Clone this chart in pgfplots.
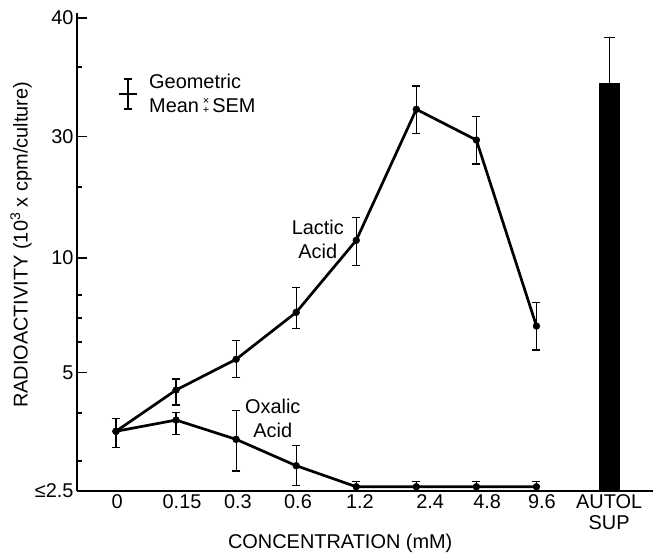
\documentclass[border=0pt]{standalone}
\usepackage{fontspec}
\setmainfont{Liberation Sans}
\usepackage{pgfplots}
\pgfplotsset{compat=1.18}

% y positions are read on the drawn (piecewise log) scale:
% 0 = <=2.5, 1 = 5, 1.97 = 10, 3 = 30, 4 = 40
\pgfplotsset{
  errs/.style={error bars/.cd, y dir=both, y explicit,
    error bar style={line width=1.2bp, solid},
    error mark options={rotate=90, line width=1.2bp, mark size=4bp, solid}},
}

\begin{document}
\begin{tikzpicture}
\begin{axis}[
  scale only axis, width=576bp, height=477.7bp,
  xmin=-0.649, xmax=8.94, ymin=0, ymax=4.04,
  axis lines=left, axis line style={-, line width=1.5bp},
  clip=false,
  xtick={0.02,1.1,2.03,3.03,4.06,5.23,6.18,7.09,8.21},
  xticklabels={0,0.15,0.3,0.6,1.2,2.4,4.8,9.6,{AUTOL\\[-1pt]SUP}},
  xtick style={draw=none},
  xticklabel style={align=center, font=\fontsize{20}{22}\selectfont},
  ytick={0,1,1.97,3,4},
  yticklabels={≤2.5,5,10,30,40},
  minor ytick={0.254,0.66,1.26,1.463,1.657,2.571,3.585},
  yticklabel style={font=\fontsize{20}{22}\selectfont},
  tick align=inside, ytick pos=left,
  major tick length=10bp, minor tick length=5bp,
  tick style={line width=1.3bp, black},
  xlabel={CONCENTRATION (mM)},
  xlabel style={at={(axis description cs:0.457,0)}, anchor=base, yshift=-57bp,
    font=\fontsize{20}{22}\selectfont},
  ylabel={RADIOACTIVITY (10\textsuperscript{3} x cpm/culture)},
  ylabel style={at={(axis description cs:-0.097,0.515)}, anchor=center,
    font=\fontsize{20}{22}\selectfont},
  every axis plot/.append style={black, line width=2.7bp},
]
\coordinate (o) at (rel axis cs:0,0);

% Lactic acid
\addplot[mark=*, mark size=3.4bp, mark options={fill=black, line width=0.5bp}, errs]
coordinates {
  (0,0.505) +=(0,0.110) -=(0,0.139)
  (1,0.854) +=(0,0.093) -=(0,0.127)
  (2,1.114) +=(0,0.161) -=(0,0.153)
  (3,1.511) +=(0,0.208) -=(0,0.135)
  (4,2.120) +=(0,0.195) -=(0,0.210)
  (5,3.228) +=(0,0.197) -=(0,0.203)
  (6,2.968) +=(0,0.197) -=(0,0.203)
  (7,1.395) +=(0,0.201) -=(0,0.203)
};

% Oxalic acid
\addplot[mark=*, mark size=3.4bp, mark options={fill=black, line width=0.5bp}, errs]
coordinates {
  (0,0.505) +=(0,0.110) -=(0,0.139)
  (1,0.600) +=(0,0.062) -=(0,0.121)
  (2,0.437) +=(0,0.242) -=(0,0.268)
  (3,0.214) +=(0,0.169) -=(0,0.169)
  (4,0.036) +=(0,0.045) -=(0,0.036)
  (5,0.036) +=(0,0.045) -=(0,0.036)
  (6,0.036) +=(0,0.045) -=(0,0.036)
  (7,0.036) +=(0,0.045) -=(0,0.036)
};

% Autologous supernatant
\addplot[ybar, bar width=20bp, fill=black, draw=black, line width=0.5bp,
  error bars/.cd, y dir=plus, y explicit,
  error bar style={line width=1.2bp},
  error mark options={rotate=90, line width=1.2bp, mark size=5.5bp}]
coordinates {(8.21,3.45) +=(0,0.387) -=(0,0)};

% key symbol
\addplot[line width=1.2bp, mark=none] coordinates {(0.05,3.357) (0.35,3.357)};
\addplot[line width=1.2bp, mark=-, mark size=4bp] coordinates {(0.2,3.23) (0.2,3.484)};

\node[anchor=base west, inner sep=0, font=\fontsize{20}{22}\selectfont]
  at (axis cs:0.55,3.40) {Geometric};
\node[anchor=base west, inner sep=0, font=\fontsize{20}{22}\selectfont]
  at (axis cs:0.55,3.197) {Mean};
\node[anchor=base, inner sep=0, font=\fontsize{11}{8}\selectfont]
  at (axis cs:1.5,3.19) {\shortstack{×\\+}};
\node[anchor=base west, inner sep=0, font=\fontsize{20}{22}\selectfont]
  at (axis cs:1.6,3.197) {SEM};

\node[align=center, inner sep=0, font=\fontsize{20}{24}\selectfont]
  at (axis cs:3.36,2.13) {Lactic\\Acid};
\node[align=center, inner sep=0, font=\fontsize{20}{24}\selectfont]
  at (axis cs:2.61,0.617) {Oxalic\\Acid};
\end{axis}
\pgfresetboundingbox
\path (o) ++(-77bp,-65bp) rectangle ++(653bp,556bp);
\end{tikzpicture}
\end{document}
